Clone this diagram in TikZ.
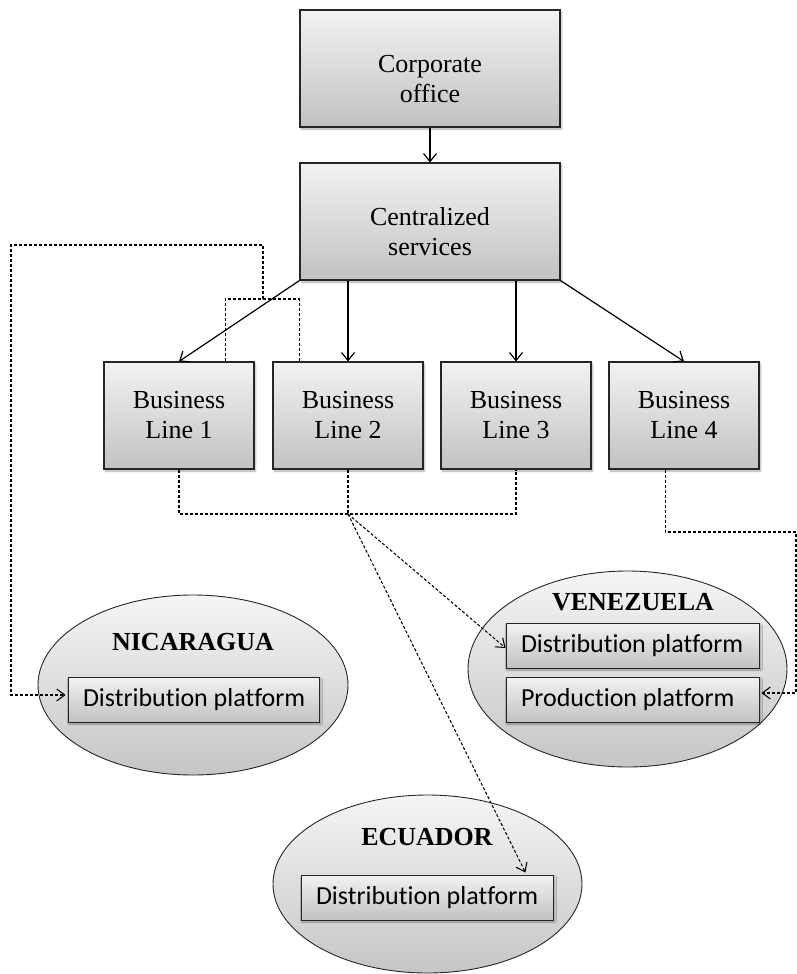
\documentclass[tikz,border=0pt]{standalone}
\usepackage{fontspec}
\setmainfont[Ligatures=NoCommon]{Liberation Serif}
\newfontfamily\calib[Ligatures=NoCommon]{Carlito}
\usetikzlibrary{arrows.meta,shapes.geometric,shadows.blur,calc}

\tikzset{
  x=1pt, y=-1pt,
  boxfill/.style={top color=gray!10, bottom color=gray!48},
  orgbox/.style={draw=black!85, line width=1.1pt, boxfill,
    blur shadow={shadow xshift=1.5pt, shadow yshift=-2pt, shadow blur steps=4, shadow opacity=35},
    align=center, inner sep=0pt,
    font=\fontsize{26}{30}\selectfont},
  platbox/.style={draw=black!85, line width=0.9pt, boxfill,
    blur shadow={shadow xshift=1.5pt, shadow yshift=-2pt, shadow blur steps=4, shadow opacity=35},
    minimum height=45, inner xsep=15pt, inner ysep=0pt,
    font=\calib\fontsize{26}{30}\selectfont},
  country/.style={ellipse, draw=black!85, line width=0.9pt,
    top color=gray!8, bottom color=gray!45, inner sep=0pt},
  cname/.style={font=\bfseries\fontsize{26}{30}\selectfont, inner sep=0pt},
  solidarrow/.style={line width=1.2pt, -{Straight Barb[length=8pt,width=13pt]}},
  dl/.style={line width=1.05pt, dash pattern=on 3pt off 2pt},
  dlarrow/.style={dl, -{Straight Barb[length=8pt,width=12pt]}},
}
% platform label, left aligned in a fixed-width slot
\newcommand{\platlabel}[2]{\makebox[#1][l]{#2}}

\begin{document}
\begin{tikzpicture}
\useasboundingbox (0,0) rectangle (797,974);

% head office and shared services
\node[orgbox, minimum width=260, minimum height=117] (corp) at (430,68.5) {\rule{0pt}{38pt}Corporate\\office};
\node[orgbox, minimum width=260, minimum height=117] (cent) at (430,221.5) {\rule{0pt}{38pt}Centralized\\services};

% business lines
\node[orgbox, minimum width=150, minimum height=107] (bl1) at (179,415.5) {Business\\Line 1};
\node[orgbox, minimum width=150, minimum height=107] (bl2) at (348,415.5) {Business\\Line 2};
\node[orgbox, minimum width=150, minimum height=107] (bl3) at (516,415.5) {Business\\Line 3};
\node[orgbox, minimum width=150, minimum height=107] (bl4) at (684,415.5) {Business\\Line 4};

% countries
\node[country, minimum width=310, minimum height=180] (nic) at (193,685) {};
\node[country, minimum width=319, minimum height=196] (ven) at (627.5,669) {};
\node[country, minimum width=309, minimum height=178] (ecu) at (427.5,884) {};

\node[cname] (nicname) at (193,642) {NICARAGUA};
\node[cname] (venname) at (633,602) {VENEZUELA};
\node[cname] (ecuname) at (427,837) {ECUADOR};

\node[platbox] (nicdist) at (193.5,699.5) {\platlabel{221pt}{Distribution platform}};
\node[platbox] (vendist) at (632.5,645.5) {\platlabel{223pt}{Distribution platform}};
\node[platbox] (venprod) at (632.5,699.5) {\platlabel{223pt}{Production platform}};
\node[platbox] (ecudist) at (427,897.5) {\platlabel{222pt}{Distribution platform}};

% reporting lines
\draw[solidarrow] (corp) -- (cent);
\draw[solidarrow] (cent.south west) -- (bl1.north);
\draw[solidarrow] (cent.south -| bl2.north) -- (bl2.north);
\draw[solidarrow] (cent.south -| bl3.north) -- (bl3.north);
\draw[solidarrow] (cent.south east) -- (bl4.north);

% Business Lines 1 and 2 serve Nicaragua
\coordinate (jn) at (263,299);
\coordinate (tn) at (263,245);
\coordinate (ln) at (11,245);
\draw[dl] ($(bl1.north west)+(122,0)$) |- (jn) -| ($(bl2.north west)+(27,0)$);
\draw[dlarrow] (jn) -- (tn) -- (ln) |- ([yshift=4.5pt,xshift=-2pt]nicdist.west);

% Business Lines 1-3 serve Venezuela and Ecuador distribution
\coordinate (hub) at (348,514);
\draw[dl] (bl1.south) |- (hub) -| (bl3.south);
\draw[dl] (bl2.south) -- (hub);
\draw[dlarrow] (hub) -- ([yshift=-2.5pt]vendist.west);
\draw[dlarrow] (hub) -- ($(ecudist.north east)+(-28,-2)$);

% Business Line 4 serves Venezuela production
\coordinate (re) at (796,532);
\draw[dlarrow] ($(bl4.south west)+(57,0)$) |- (re) |- ([yshift=6.5pt,xshift=2pt]venprod.east);
\end{tikzpicture}
\end{document}
